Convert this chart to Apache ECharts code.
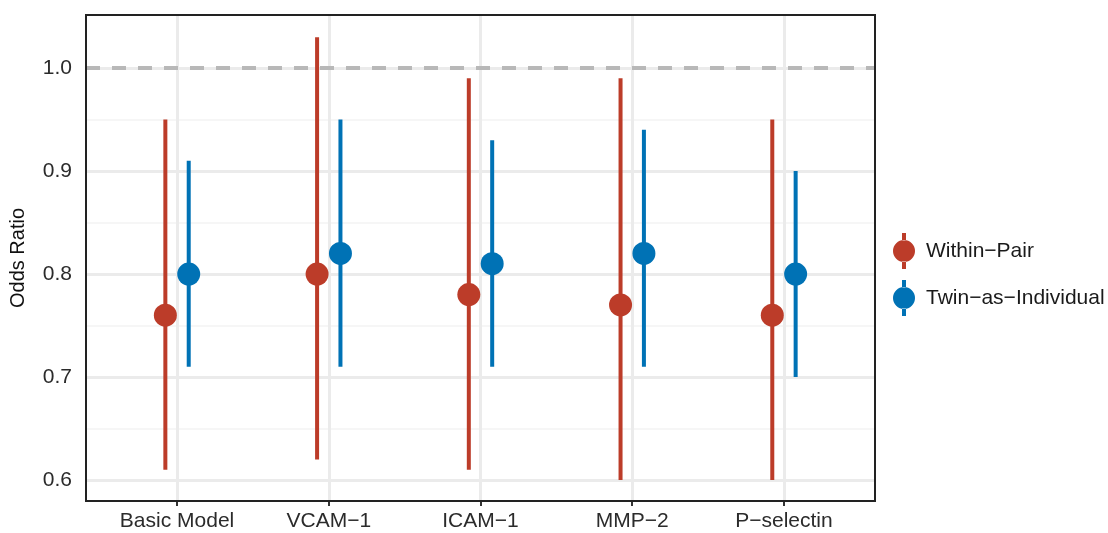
<!DOCTYPE html>
<html>
<head>
<meta charset="utf-8">
<script src="https://cdn.jsdelivr.net/npm/echarts@6/dist/echarts.min.js"></script>
<style>
html,body{margin:0;padding:0;background:#fff;}
#chart{width:1108px;height:533px;}
</style>
</head>
<body>
<div id="chart"></div>
<script>
const categories = ['Basic Model', 'VCAM\u22121', 'ICAM\u22121', 'MMP\u22122', 'P\u2212selectin'];
const seriesNames = ['Within\u2212Pair', 'Twin\u2212as\u2212Individual'];
const withinEst = [0.76, 0.80, 0.78, 0.77, 0.76];
const withinLow = [0.61, 0.62, 0.61, 0.60, 0.60];
const withinHigh = [0.95, 1.03, 0.99, 0.99, 0.95];
const twinEst = [0.80, 0.82, 0.81, 0.82, 0.80];
const twinLow = [0.71, 0.71, 0.71, 0.71, 0.70];
const twinHigh = [0.91, 0.95, 0.93, 0.94, 0.90];
const yTicks = [0.6, 0.7, 0.8, 0.9, 1.0];
const yMinor = [0.65, 0.75, 0.85, 0.95];
const refLine = 1.0;

const FONT = 'Liberation Sans, Arial, Helvetica, sans-serif';
const RED = '#BC3C29';
const BLUE = '#0072B5';
const DODGE = 0.077;
const xIdx = categories.map((c, i) => i);

function build(est, low, high, off) {
  return est.map((v, i) => [i + off, v, low[i], high[i]]);
}

function renderPR(params, api) {
  const x = api.value(0);
  const pm = api.coord([x, api.value(1)]);
  const pl = api.coord([x, api.value(2)]);
  const ph = api.coord([x, api.value(3)]);
  const color = api.visual('color');
  return {
    type: 'group',
    children: [
      { type: 'line', shape: { x1: pl[0], y1: pl[1], x2: ph[0], y2: ph[1] },
        style: { stroke: color, lineWidth: 4 } },
      { type: 'circle', shape: { cx: pm[0], cy: pm[1], r: 11.5 },
        style: { fill: color } }
    ]
  };
}

const icon = 'path://M9,0 h4 v7.4 h-4 z M9,28.6 h4 v7.4 h-4 z M0,18 a11,11 0 1,0 22,0 a11,11 0 1,0 -22,0 z';

const chart = echarts.init(document.getElementById('chart'), null, { renderer: 'canvas' });
chart.setOption({
  animation: false,
  backgroundColor: '#fff',
  textStyle: { fontFamily: FONT },
  grid: { left: 85, right: 233, top: 15, bottom: 32, show: true, borderColor: '#222', borderWidth: 2, backgroundColor: 'transparent', z: 10 },
  legend: {
    orient: 'vertical', left: 888, top: 228, itemWidth: 22, itemHeight: 36, itemGap: 11,
    data: [{ name: seriesNames[0], icon: icon }, { name: seriesNames[1], icon: icon }],
    textStyle: { fontSize: 21, color: '#1a1a1a', fontFamily: FONT, padding: [0, 0, 0, 6] }
  },
  xAxis: {
    type: 'value', min: -0.6, max: 4.6,
    axisLine: { show: false },
    splitLine: { show: false },
    axisTick: { show: true, customValues: xIdx, length: 5, lineStyle: { color: '#333', width: 2 } },
    axisLabel: { customValues: xIdx, margin: 10, fontSize: 21, color: '#2b2b2b', fontFamily: FONT,
      formatter: v => categories[Math.round(v)] }
  },
  yAxis: {
    type: 'value', min: 0.5796, max: 1.0515,
    name: 'Odds Ratio', nameLocation: 'middle', nameGap: 58, nameRotate: 90,
    nameTextStyle: { fontSize: 20, color: '#111', fontFamily: FONT },
    axisLine: { show: false },
    splitLine: { show: false },
    axisTick: { show: true, customValues: yTicks, length: 5, lineStyle: { color: '#333', width: 2 } },
    axisLabel: { customValues: yTicks, margin: 14, fontSize: 21, color: '#2b2b2b', fontFamily: FONT,
      formatter: v => v.toFixed(1) }
  },
  series: [
    {
      type: 'scatter', data: [], silent: true, z: 1,
      markLine: {
        silent: true, symbol: 'none', label: { show: false }, animation: false,
        data: [
          ...yMinor.map(v => ({ yAxis: v, lineStyle: { color: '#F3F3F3', width: 1.5, type: 'solid' } })),
          ...yTicks.map(v => ({ yAxis: v, lineStyle: { color: '#EBEBEB', width: 3, type: 'solid' } })),
          ...xIdx.map(v => ({ xAxis: v, lineStyle: { color: '#EBEBEB', width: 3, type: 'solid' } }))
        ]
      }
    },
    {
      type: 'scatter', data: [], silent: true, z: 2,
      markLine: {
        silent: true, symbol: 'none', label: { show: false }, animation: false,
        data: [{ yAxis: refLine, lineStyle: { color: '#B8B8B8', width: 4, type: [14, 12] } }]
      }
    },
    {
      name: seriesNames[0], type: 'custom', z: 5, itemStyle: { color: RED },
      renderItem: renderPR, encode: { x: 0, y: [1, 2, 3] },
      data: build(withinEst, withinLow, withinHigh, -DODGE)
    },
    {
      name: seriesNames[1], type: 'custom', z: 5, itemStyle: { color: BLUE },
      renderItem: renderPR, encode: { x: 0, y: [1, 2, 3] },
      data: build(twinEst, twinLow, twinHigh, DODGE)
    }
  ]
});
</script>
</body>
</html>
